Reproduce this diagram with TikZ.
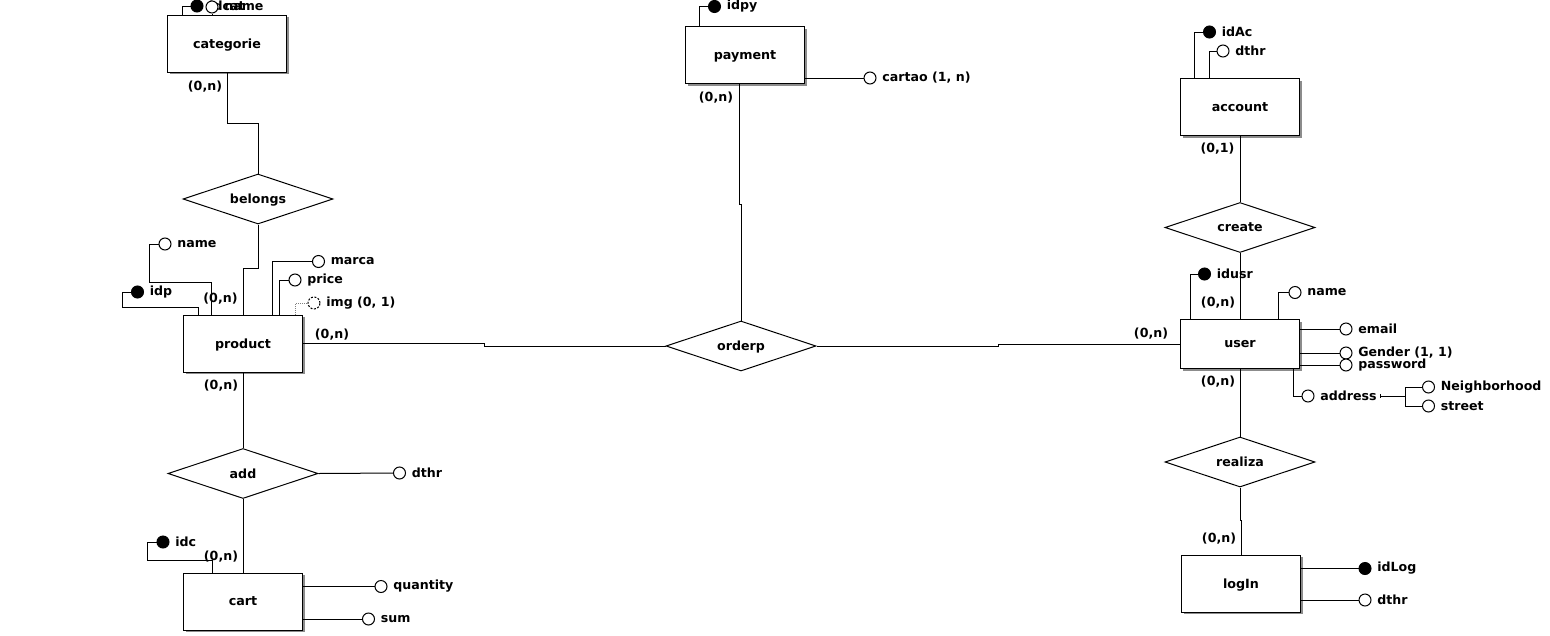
\documentclass[tikz,border=0pt]{standalone}
\usepackage{fontspec}
\setmainfont{DejaVu Sans}
\usetikzlibrary{shapes.geometric,shadows,arrows.meta}
\begin{document}
\begin{tikzpicture}[x=1pt,y=-1pt,line width=1pt,
	every node/.style={font=\bfseries\fontsize{12.6}{14}\selectfont},
	entity/.style={draw,fill=white,minimum width=119pt,minimum height=57pt,inner sep=0pt,text depth=0pt,
		font=\bfseries\fontsize{12.7}{14}\selectfont,
		drop shadow={shadow xshift=2pt,shadow yshift=-2pt,fill=black!45,opacity=1}},
	relation/.style={draw,diamond,aspect=3,inner sep=0pt,text depth=0pt,minimum width=150pt,minimum height=50pt},
	circ/.style={draw,circle,fill=white,minimum size=12pt,inner sep=0pt},
	attr/.style={circ,label={[label distance=2pt]right:#1}},
	keyattr/.style={attr=#1,fill=black},
	card/.style={inner sep=0pt}]
				\useasboundingbox[fill=white] (0,0) rectangle (1550,635);
				% entities
				\node[entity] (categ) at (227,43.5) {categorie};
				\node[entity] (prod) at (243,343.5) {product};
				\node[entity] (cart) at (243,601.5) {cart};
				\node[entity] (pay) at (745,55) {payment};
				\node[entity] (acc) at (1240,107) {account};
				\node[entity,minimum height=49pt] (user) at (1240,344) {user};
				\node[entity] (login) at (1241,583.5) {logIn};
				% relationships
				\node[relation] (belongs) at (258,199) {belongs};
				\node[relation] (add) at (243,473.5) {add};
				\node[relation] (orderp) at (741,346) {orderp};
				\node[relation] (create) at (1240,227.5) {create};
				\node[relation] (realiza) at (1240,462) {realiza};
				% attributes
				\node[keyattr=idcat] (idcat) at (197,6) {};
				\node[attr=name] (cname) at (212,7) {};
				\node[attr=name] (pname) at (165,244) {};
				\node[keyattr=idp] (idp) at (137.5,292) {};
				\node[attr=marca] (marca) at (318.5,261.5) {};
				\node[attr=price] (price) at (295,280) {};
				\node[circ,dash pattern=on 2pt off 1.5pt,label={[label distance=2pt]right:img (0, 1)}] (img) at (314,303) {};
				\node[keyattr=idc] (idc) at (163,542) {};
				\node[attr=quantity] (quant) at (381,586.5) {};
				\node[attr=sum] (sum) at (368.5,619) {};
				\node[attr=dthr] (adthr) at (399.5,473) {};
				\node[keyattr=idpy] (idpy) at (714.5,6.5) {};
				\node[attr={cartao (1, n)}] (cartao) at (870,78) {};
				\node[keyattr=idAc] (idac) at (1209.5,32) {};
				\node[attr=dthr] (acdthr) at (1223,51) {};
				\node[keyattr=idusr] (idusr) at (1204.5,274) {};
				\node[attr=name] (uname) at (1295,292.5) {};
				\node[attr=email] (email) at (1346,329) {};
				\node[attr={Gender (1, 1)}] (gender) at (1346,353) {};
				\node[attr=password] (passw) at (1346,365) {};
				\node[circ,label={[name=addrl,label distance=2pt]right:address}] (addr) at (1308,396) {};
				\node[attr=Neighborhood] (neigh) at (1428.5,387) {};
				\node[attr=street] (street) at (1428.5,406) {};
				\node[keyattr=idLog] (idlog) at (1365,568.5) {};
				\node[attr=dthr] (ldthr) at (1365,600) {};
				\coordinate (addrj) at (1405,396);
				% cardinalities
				\node[card] (k1) at (205,87) {(0,n)};
				\node[card] (k2) at (220.5,299) {(0,n)};
				\node[card] (k3) at (332,335) {(0,n)};
				\node[card] (k4) at (221,386) {(0,n)};
				\node[card] (k5) at (221,556.5) {(0,n)};
				\node[card] (k6) at (716,98) {(0,n)};
				\node[card] (k7) at (1151,334) {(0,n)};
				\node[card] (k8) at (1217.5,149) {(0,1)};
				\node[card] (k9) at (1218,303) {(0,n)};
				\node[card] (k10) at (1218,382) {(0,n)};
				\node[card] (k11) at (1219,539) {(0,n)};
				% relationship links
				\draw (categ.south) -- ++(0,51) -| (belongs.north);
				\draw (belongs.south) -- ++(0,44) -| (prod.north);
				\draw (prod.south) -- (add.north);
				\draw (add.south) -- (cart.north);
				\draw (add.east) -- (adthr);
				\draw (prod.east) -- (484,343.5) |- (orderp.west);
				\draw ([xshift=-6pt]pay.south) -- ++(0,120) -| (orderp.north);
				\draw (orderp.east) -- (998,346) |- (user.west);
				\draw (acc.south) -- (create.north);
				\draw (create.south) -- (user.north);
				\draw (user.south) -- (realiza.north);
				\draw (realiza.south) -- ++(0,33) -| (login.north);
				% attribute links
				\draw ([xshift=-45pt]categ.north) |- (idcat);
				\draw ([xshift=-15pt]categ.north) -- (cname.south);
				\draw (pname.west) -| (149,282) -| ([xshift=-32pt]prod.north);
				\draw (idp.west) -| (122,307) -| ([xshift=-45pt]prod.north);
				\draw ([xshift=29pt]prod.north) |- (marca);
				\draw ([xshift=36pt]prod.north) |- (price);
				\draw[gray,line width=0.6pt,dash pattern=on 1pt off 1pt] ([xshift=52.5pt]prod.north) |- (img);
				\draw (idc.west) -| (147,560) -| ([xshift=-31pt]cart.north);
				\draw (cart.east |- quant) -- (quant);
				\draw (cart.east |- sum) -- (sum);
				\draw ([xshift=-46pt]pay.north) |- (idpy);
				\draw (pay.east |- cartao) -- (cartao);
				\draw ([xshift=-46pt]acc.north) |- (idac);
				\draw ([xshift=-31pt]acc.north) |- (acdthr);
				\draw ([xshift=-49.5pt]user.north) |- (idusr);
				\draw ([xshift=38pt]user.north) |- (uname);
				\draw (user.east |- email) -- (email);
				\draw (user.east |- gender) -- (gender);
				\draw (user.east |- passw) -- (passw);
				\draw ([xshift=53pt]user.south) |- (addr);
				\draw[{Bar[width=4pt]}-] (addrl.east) -- (addrj);
				\draw (neigh) -| (addrj) |- (street);
				\draw (login.east |- idlog) -- (idlog);
				\draw (login.east |- ldthr) -- (ldthr);
\end{tikzpicture}
\end{document}
